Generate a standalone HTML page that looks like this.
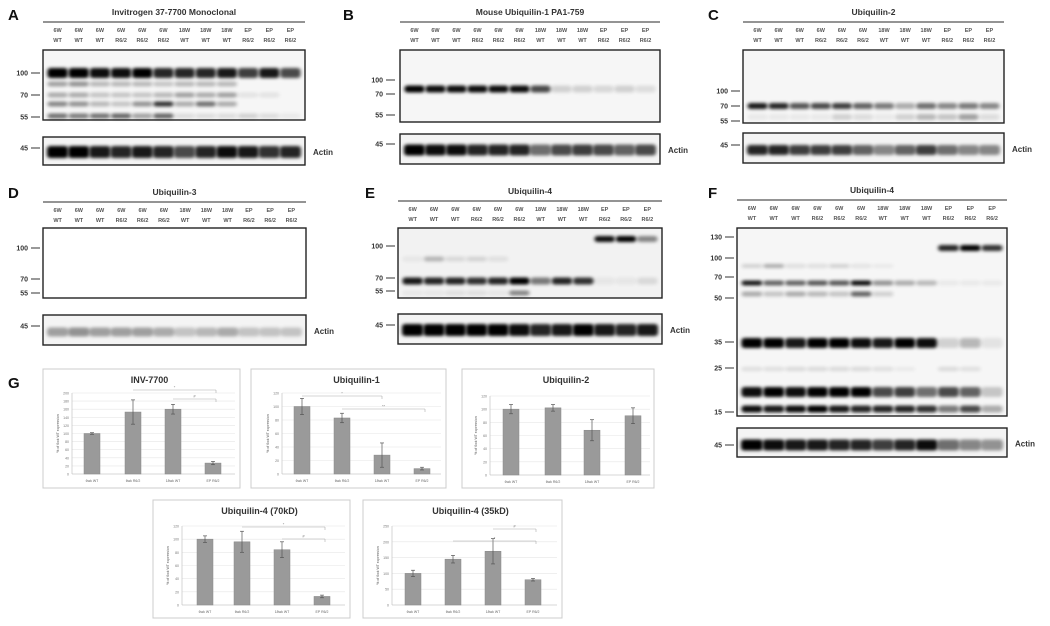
<!DOCTYPE html>
<html><head><meta charset="utf-8"><style>
html,body{margin:0;padding:0;background:#fff;width:1050px;height:626px;overflow:hidden}
svg{display:block;font-family:"Liberation Sans",Arial,sans-serif}
</style></head><body>
<svg id="s" width="1050" height="626" viewBox="0 0 1050 626" xmlns="http://www.w3.org/2000/svg">
<defs>
<filter id="b" x="-30%" y="-100%" width="160%" height="300%"><feGaussianBlur stdDeviation="1.9 1.5"/></filter>
</defs>
<rect width="1050" height="626" fill="#fff"/>
<g id="g"></g>
</svg>
<script>
var g=document.getElementById('g'),NS='http://www.w3.org/2000/svg';
function el(t,a,txt){var e=document.createElementNS(NS,t);for(var k in a)e.setAttribute(k,a[k]);if(txt!==undefined)e.textContent=txt;g.appendChild(e);return e;}
function txt(x,y,s,sz,anc,w,col){return el('text',{x:x,y:y,'font-size':sz,'text-anchor':anc||'middle','font-weight':w||'bold',fill:col||'#333'},s);}
var r1=["6W","6W","6W","6W","6W","6W","18W","18W","18W","EP","EP","EP"],
    r2=["WT","WT","WT","R6/2","R6/2","R6/2","WT","WT","WT","R6/2","R6/2","R6/2"];
function panel(p){
  txt(p.lx,p.ly,p.L,15,'start','bold','#111');
  txt((p.x0+p.x1)/2,p.ty,p.title,8.5,'middle','bold','#333');
  el('line',{x1:p.x0,y1:p.ty+7,x2:p.x1,y2:p.ty+7,stroke:'#555','stroke-width':1.2});
  var lw=(p.x1-p.x0-8)/12;
  p.lanes=[];
  for(var i=0;i<12;i++){var cx=p.x0+4+lw*(i+.5);p.lanes.push(cx);
    txt(cx,p.ty+17,r1[i],5.5,'middle','bold','#555');txt(cx,p.ty+27,r2[i],5.5,'middle','bold','#555');}
  el('rect',{x:p.x0,y:p.by0,width:p.x1-p.x0,height:p.by1-p.by0,fill:p.bg||'#f6f6f6',stroke:'#222','stroke-width':1.4});
  el('rect',{x:p.x0,y:p.ay0,width:p.x1-p.x0,height:p.ay1-p.ay0,fill:'#f4f4f4',stroke:'#222','stroke-width':1.4});
  p.marks.forEach(function(m){txt(p.mx,m[1]+2.5,m[0],7,'end','bold','#333');el('line',{x1:p.mx+3,y1:m[1],x2:p.mx+12,y2:m[1],stroke:'#333','stroke-width':1});});
  txt(p.mx,p.acy+2.5,"45",7,'end','bold','#333');el('line',{x1:p.mx+3,y1:p.acy,x2:p.mx+12,y2:p.acy,stroke:'#333','stroke-width':1});
  txt(p.x1+8,p.ay0+(p.ay1-p.ay0)/2+4,"Actin",8,'start','bold','#333');
  p.bands.forEach(function(b){for(var i=0;i<12;i++){var o=b.v[i];if(o<=0)continue;
    el('rect',{x:p.lanes[i]-lw*0.48,y:b.y-b.h/2,width:lw*0.96,height:b.h,rx:3,fill:'#000','fill-opacity':Math.min(1,o),filter:'url(#b)'});}});
  var ab=p.actin;for(var i=0;i<12;i++){el('rect',{x:p.lanes[i]-lw*0.5,y:p.acy2-ab.h/2,width:lw*1.0,height:ab.h,rx:3,fill:'#000','fill-opacity':ab.v[i],filter:'url(#b)'});}
}
panel({L:"A",lx:8,ly:20,title:"Invitrogen 37-7700 Monoclonal",x0:43,x1:305,ty:15,by0:50,by1:120,ay0:137,ay1:165,mx:28,
  marks:[["100",73],["70",95],["55",117]],acy:148,acy2:152,
  bands:[{y:73,h:10,v:[1,1,.95,.95,1,.85,.85,.85,.9,.75,.9,.7]},{y:84,h:5,v:[.35,.4,.25,.25,.25,.2,.25,.25,.25,0,0,0]},
   {y:95,h:5,v:[.3,.3,.2,.2,.2,.25,.35,.3,.35,.08,.08,0]},{y:104,h:5,v:[.45,.4,.25,.2,.4,.8,.3,.55,.3,0,0,0]},{y:116,h:5,v:[.55,.5,.55,.6,.35,.6,.1,.1,.1,.15,.1,.05]}],
  actin:{h:12,v:[1,1,.9,.85,.9,.85,.7,.85,.95,.9,.8,.85]}});
panel({L:"B",lx:343,ly:20,title:"Mouse Ubiquilin-1 PA1-759",x0:400,x1:660,ty:15,by0:50,by1:122,ay0:134,ay1:164,mx:383,
  marks:[["100",80],["70",94],["55",115]],acy:144,acy2:150,
  bands:[{y:89,h:7,v:[1,.95,.95,.95,.95,.95,.7,.15,.15,.12,.15,.1]}],
  actin:{h:11,v:[1,.95,.95,.85,.85,.85,.55,.7,.75,.7,.6,.7]}});
panel({L:"C",lx:708,ly:20,title:"Ubiquilin-2",x0:743,x1:1004,ty:15,by0:50,by1:123,ay0:133,ay1:163,mx:728,
  marks:[["100",91],["70",106],["55",121]],acy:145,acy2:150,
  bands:[{y:106,h:6,v:[.9,.85,.65,.7,.75,.6,.5,.3,.55,.45,.5,.45]},{y:117,h:6,v:[.05,.05,.05,.05,.15,.1,.05,.15,.25,.2,.35,.1]}],
  actin:{h:10,v:[.85,.85,.75,.75,.75,.6,.45,.6,.75,.55,.45,.45]}});
panel({L:"D",lx:8,ly:198,title:"Ubiquilin-3",x0:43,x1:306,ty:195,by0:228,by1:298,ay0:315,ay1:345,mx:28,bg:'#fff',
  marks:[["100",248],["70",279],["55",293]],acy:326,acy2:332,bands:[],
  actin:{h:9,v:[.35,.4,.35,.35,.35,.3,.2,.25,.3,.2,.2,.2]}});
panel({L:"E",lx:365,ly:198,title:"Ubiquilin-4",x0:398,x1:662,ty:194,by0:228,by1:298,ay0:314,ay1:344,mx:383,bg:'#f2f2f2',
  marks:[["100",246],["70",278],["55",291]],acy:325,acy2:330,
  bands:[{y:281,h:7,v:[.9,.85,.85,.8,.85,1,.5,.85,.8,.05,.05,.1]},{y:239,h:6,v:[0,0,0,0,0,0,0,0,0,.95,1,.45]},{y:259,h:5,v:[.05,.25,.1,.12,.08,0,0,0,0,0,0,0]},{y:293,h:5,v:[.05,.05,.08,.08,.05,.45,0,0,0,0,0,0]}],
  actin:{h:12,v:[1,1,1,1,1,.95,.85,.9,1,.9,.85,.9]}});
panel({L:"F",lx:708,ly:198,title:"Ubiquilin-4",x0:737,x1:1007,ty:193,by0:228,by1:416,ay0:428,ay1:457,mx:722,bg:'#f6f6f6',
  marks:[["130",237],["100",258],["70",277],["50",298],["35",342],["25",368],["15",412]],acy:445,acy2:445,
  bands:[{y:248,h:6,v:[0,0,0,0,0,0,0,0,0,.85,1,.8]},{y:266,h:4,v:[.15,.3,.1,.1,.15,.08,.05,0,0,0,0,0]},
   {y:283,h:5,v:[.9,.6,.6,.65,.65,.95,.4,.3,.25,.05,.05,.05]},{y:294,h:5,v:[.3,.2,.3,.25,.2,.6,.15,0,0,0,0,0]},
   {y:343,h:10,v:[1,1,.9,1,1,.95,.9,1,.95,.15,.25,.08]},{y:369,h:4,v:[.1,.1,.12,.12,.12,.12,.1,.05,0,.12,.1,0]},
   {y:392,h:10,v:[.95,1,.95,1,1,1,.7,.75,.55,.7,.6,.2]},{y:409,h:7,v:[.95,.9,.95,1,.9,.85,.85,.85,.8,.5,.7,.3]}],
  actin:{h:11,v:[1,.95,.9,.9,.85,.85,.75,.85,.95,.55,.45,.4]}});
txt(8,388,"G",15,'start','bold','#111');
var xl=["6wk WT","6wk R6/2","18wk WT","EP R6/2"];
function chart(c){
  el('rect',{x:c.x0,y:c.y0,width:c.x1-c.x0,height:c.y1-c.y0,fill:'#fff',stroke:'#ccc','stroke-width':1});
  txt((c.x0+c.x1)/2+8,c.y0+14,c.t,9,'middle','bold','#333');
  var ax=c.ax,top=c.top,bot=c.bot,r=c.right;
  for(var k=0;k<=c.n;k++){var y=bot-(bot-top)*k/c.n;el('line',{x1:ax,y1:y,x2:r,y2:y,stroke:'#e6e6e6','stroke-width':.6});
    txt(ax-3,y+1.5,String(Math.round(c.max*k/c.n)),3.5,'end','normal','#777');}
  el('line',{x1:ax,y1:top,x2:ax,y2:bot,stroke:'#bbb','stroke-width':.6});
  el('line',{x1:ax,y1:bot,x2:r,y2:bot,stroke:'#bbb','stroke-width':.6});
  el('text',{x:0,y:0,'font-size':3.5,'text-anchor':'middle',fill:'#555',transform:'translate('+(ax-13)+','+((top+bot)/2)+') rotate(-90)'},"% of 6wk WT expression");
  for(var i=0;i<4;i++){var cx=c.bx[i],h=(bot-top)*c.v[i]/c.max,e=(bot-top)*c.e[i]/c.max;
    el('rect',{x:cx-8,y:bot-h,width:16,height:h,fill:'#9a9a9a',stroke:'#888','stroke-width':.5});
    el('line',{x1:cx,y1:bot-h-e,x2:cx,y2:bot-h+e,stroke:'#555','stroke-width':.7});
    el('line',{x1:cx-2,y1:bot-h-e,x2:cx+2,y2:bot-h-e,stroke:'#555','stroke-width':.7});
    el('line',{x1:cx-2,y1:bot-h+e,x2:cx+2,y2:bot-h+e,stroke:'#555','stroke-width':.7});
    txt(cx,bot+8,xl[i],3.5,'middle','normal','#666');}
  (c.sig||[]).forEach(function(s){el('line',{x1:s[0],y1:s[2],x2:s[1],y2:s[2],stroke:'#aaa','stroke-width':.6});
    el('line',{x1:s[1],y1:s[2],x2:s[1],y2:s[2]+3,stroke:'#aaa','stroke-width':.6});txt((s[0]+s[1])/2,s[2]-1.5,s[3],4,'middle','normal','#888');});
}
chart({x0:43,x1:240,y0:369,y1:488,t:"INV-7700",ax:72,top:393,bot:474,right:235,n:10,max:200,bx:[92,133,173,213],v:[100,153,160,27],e:[2,30,12,4],
  sig:[[133,216,390,"*"],[173,216,399,"#"]]});
chart({x0:251,x1:446,y0:369,y1:488,t:"Ubiquilin-1",ax:282,top:393,bot:474,right:441,n:6,max:120,bx:[302,342,382,422],v:[100,83,28,8],e:[12,7,18,2],
  sig:[[302,382,396,"*"],[342,425,409,"**"]]});
chart({x0:462,x1:654,y0:369,y1:488,t:"Ubiquilin-2",ax:490,top:396,bot:475,right:650,n:6,max:120,bx:[511,553,592,633],v:[100,102,68,90],e:[7,5,16,12]});
chart({x0:153,x1:350,y0:500,y1:618,t:"Ubiquilin-4 (70kD)",ax:182,top:526,bot:605,right:345,n:6,max:120,bx:[205,242,282,322],v:[100,96,84,13],e:[5,16,12,2],
  sig:[[242,325,527,"*"],[282,325,539,"#"]]});
chart({x0:363,x1:562,y0:500,y1:618,t:"Ubiquilin-4 (35kD)",ax:392,top:526,bot:605,right:557,n:5,max:250,bx:[413,453,493,533],v:[100,145,170,80],e:[10,12,40,4],
  sig:[[493,536,529,"#"],[453,536,541,"*"]]});
</script>
</body></html>
